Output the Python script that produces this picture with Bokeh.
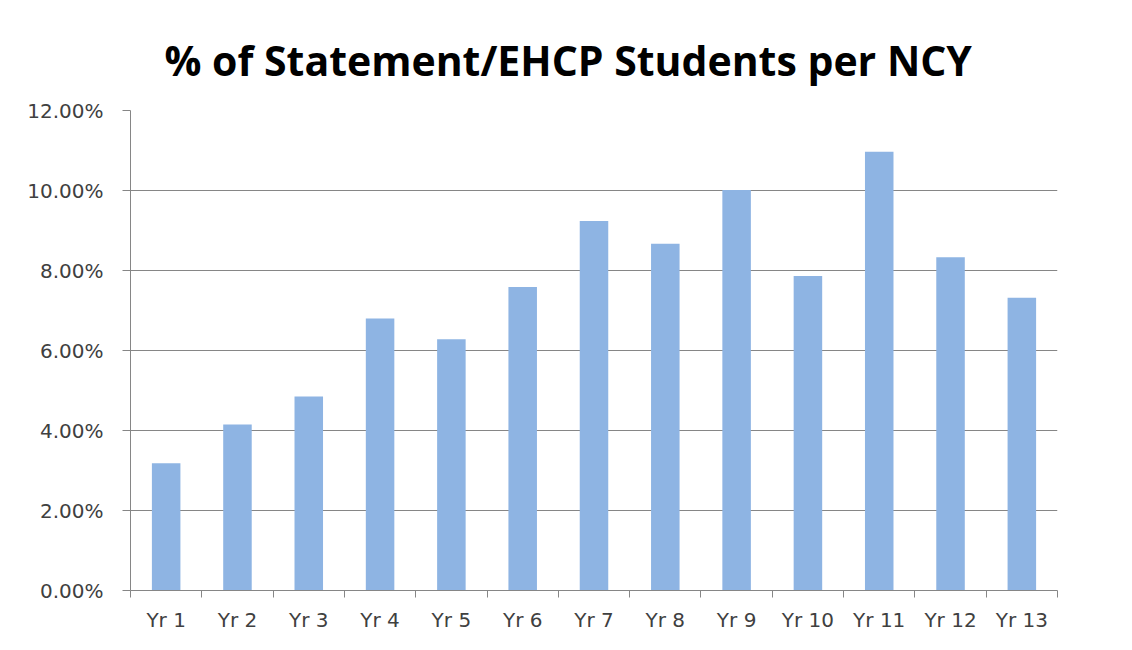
from bokeh.plotting import figure
from bokeh.models import FixedTicker, PrintfTickFormatter, Range1d, Title, ColumnDataSource
from bokeh.embed import file_html
from bokeh.resources import INLINE

categories = ["Yr 1", "Yr 2", "Yr 3", "Yr 4", "Yr 5", "Yr 6", "Yr 7",
              "Yr 8", "Yr 9", "Yr 10", "Yr 11", "Yr 12", "Yr 13"]
percent_values = [3.18, 4.15, 4.85, 6.80, 6.28, 7.59, 9.24,
                  8.67, 10.01, 7.86, 10.97, 8.33, 7.32]
y_ticks = [0, 2, 4, 6, 8, 10, 12]
title_text = "% of Statement/EHCP Students per NCY"

positions = list(range(1, len(categories) + 1))
source = ColumnDataSource(dict(x=positions, top=percent_values, name=categories))

p = figure(width=1116, height=634, output_backend="svg", toolbar_location=None,
           x_range=Range1d(0.5, len(categories) + 0.5), y_range=Range1d(0, 12))
p.min_border_left = 130
p.min_border_right = 59
p.min_border_top = 110
p.min_border_bottom = 40
p.outline_line_color = None
p.background_fill_color = "white"
p.border_fill_color = "white"

p.vbar(x="x", top="top", width=0.4, source=source, fill_color="#8EB4E3", line_color=None)

p.title = Title(text=title_text, align="left", text_font="Open Sans",
                text_font_size="41px", text_font_style="bold", text_color="#000000",
                standoff=46, offset=34)

# y axis
p.yaxis.ticker = FixedTicker(ticks=y_ticks)
p.yaxis.formatter = PrintfTickFormatter(format="%.2f%%")
p.yaxis.axis_line_color = "#868686"
p.yaxis.major_tick_line_color = "#868686"
p.yaxis.major_tick_out = 8
p.yaxis.major_tick_in = 0
p.yaxis.minor_tick_line_color = None
p.yaxis.major_label_standoff = 19
p.yaxis.major_label_text_font = "DejaVu Sans"
p.yaxis.major_label_text_font_size = "20px"
p.yaxis.major_label_text_color = "#404040"

# x axis: labels at centres, ticks at boundaries
p.xaxis.ticker = FixedTicker(ticks=positions,
                             minor_ticks=[x - 0.5 for x in positions] + [len(categories) + 0.5])
p.xaxis.major_label_overrides = {x: c for x, c in zip(positions, categories)}
p.xaxis.major_tick_line_color = None
p.xaxis.major_tick_out = 0
p.xaxis.major_tick_in = 0
p.xaxis.minor_tick_line_color = "#868686"
p.xaxis.minor_tick_out = 7
p.xaxis.minor_tick_in = 0
p.xaxis.axis_line_color = "#868686"
p.xaxis.major_label_standoff = 10
p.xaxis.major_label_text_font = "DejaVu Sans"
p.xaxis.major_label_text_font_size = "20px"
p.xaxis.major_label_text_color = "#404040"

p.xgrid.grid_line_color = None
p.ygrid.grid_line_color = "#868686"
p.ygrid.ticker = FixedTicker(ticks=y_ticks)

open("out.html", "w").write(file_html(p, INLINE))
